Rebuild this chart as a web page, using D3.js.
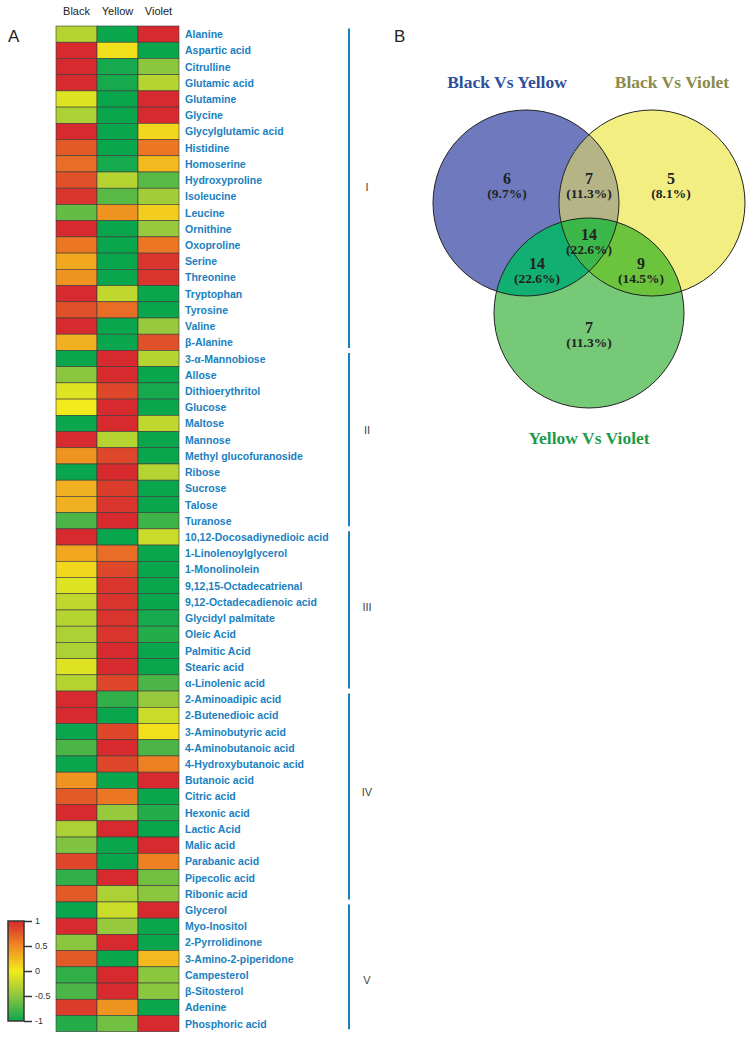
<!DOCTYPE html>
<html><head><meta charset="utf-8">
<script src="https://cdn.jsdelivr.net/npm/d3@7/dist/d3.min.js"></script>
<style>body{margin:0;background:#fff;}svg{display:block;}</style>
</head><body>
<script>
const samples = ["Black", "Yellow", "Violet"];
const metabolites = ["Alanine","Aspartic acid","Citrulline","Glutamic acid","Glutamine","Glycine","Glycylglutamic acid","Histidine","Homoserine","Hydroxyproline","Isoleucine","Leucine","Ornithine","Oxoproline","Serine","Threonine","Tryptophan","Tyrosine","Valine","β-Alanine",
"3-α-Mannobiose","Allose","Dithioerythritol","Glucose","Maltose","Mannose","Methyl glucofuranoside","Ribose","Sucrose","Talose","Turanose",
"10,12-Docosadiynedioic acid","1-Linolenoylglycerol","1-Monolinolein","9,12,15-Octadecatrienal","9,12-Octadecadienoic acid","Glycidyl palmitate","Oleic Acid","Palmitic Acid","Stearic acid","α-Linolenic acid",
"2-Aminoadipic acid","2-Butenedioic acid","3-Aminobutyric acid","4-Aminobutanoic acid","4-Hydroxybutanoic acid","Butanoic acid","Citric acid","Hexonic acid","Lactic Acid","Malic acid","Parabanic acid","Pipecolic acid","Ribonic acid",
"Glycerol","Myo-Inositol","2-Pyrrolidinone","3-Amino-2-piperidone","Campesterol","β-Sitosterol","Adenine","Phosphoric acid"];
const blackValues = [-0.3,1,1,1,-0.1,-0.35,1,0.75,0.65,0.8,0.95,-0.65,1,0.6,0.35,0.45,1,0.8,1,0.3,
-1,-0.5,-0.1,0.0,-1,1,0.45,-1,0.3,0.3,-0.75,
1,0.35,0.1,-0.1,-0.25,-0.3,-0.35,-0.35,-0.1,-0.3,
1,1,-1,-0.75,-1,0.45,0.75,1,-0.35,-0.55,0.85,-0.85,0.75,
-1,1,-0.5,0.75,-0.85,-0.75,0.9,-0.9];
const yellowValues = [-1,0.05,-0.95,-0.95,-1,-1,-1,-1,-0.95,-0.3,-0.7,0.45,-1,-1,-1,-1,-0.25,0.65,-1,-1,
1,1,0.85,1,1,-0.3,0.85,1,0.9,0.95,1,
-1,0.65,0.85,0.95,0.95,0.95,0.95,1,1,0.85,
-0.85,-1,0.85,1,0.85,-1,0.6,-0.45,1,-1,-1,1,-0.35,
-0.2,-0.45,1,-1,1,1,0.45,-0.6];
const violetValues = [1,-1,-0.5,-0.3,1,1,0.1,0.6,0.25,-0.7,-0.4,0.15,-0.45,0.6,0.95,0.95,-1,-1,-0.45,0.8,
-0.3,-1,-0.95,-1,-0.25,-1,-1,-0.3,-1,-1,-0.8,
-0.2,-1,-1,-1,-1,-0.95,-0.9,-1,-1,-0.75,
-0.45,-0.2,0.05,-0.75,0.55,1,-1,-0.9,-1,1,0.55,-0.6,-0.5,
1,-1,-1,0.25,-0.5,-0.5,-1,1];
const groupNames = ["I","II","III","IV","V"];
const groupSizes = [20,11,10,13,8];
const groupLabelRows = [9.9,24.9,35.8,47.2,58.8];
const colorTicks = [1,0.5,0,-0.5,-1];
const colorTickLabels = ["1","0.5","0","-0.5","-1"];

const vennSets = ["Black Vs Yellow","Black Vs Violet","Yellow Vs Violet"];
const vennCounts = [6,5,7,7,14,9,14];   // onlyBY, onlyBV, onlyYV, BY&BV, BY&YV, BV&YV, all
const vennPct = ["9.7%","8.1%","11.3%","11.3%","22.6%","14.5%","22.6%"];

const W=751,H=1038;
const svg=d3.select("body").append("svg").attr("width",W).attr("height",H);

// ---------- Heatmap ----------
const color=d3.scaleLinear().domain([-1,-0.5,0,0.5,1]).range(["#0aa64e","#8cc63f","#f3ea1c","#f08a22","#d62a2e"]).clamp(true);
const x=d3.scaleBand().domain(samples).range([56,179]);
const y=d3.scaleBand().domain(metabolites).range([26,1031.7]);
const cols=[blackValues,yellowValues,violetValues];
const hm=svg.append("g");
samples.forEach((s,j)=>{
  hm.selectAll(null).data(metabolites).join("rect")
    .attr("x",x(s)).attr("y",d=>y(d)).attr("width",x.bandwidth()).attr("height",y.bandwidth())
    .attr("fill",(d,i)=>color(cols[j][i])).attr("stroke","#3a3a3a").attr("stroke-width",0.6);
});
svg.append("g").selectAll("text").data(samples).join("text")
  .attr("x",d=>x(d)+x.bandwidth()/2).attr("y",15).attr("text-anchor","middle")
  .attr("font-family","Liberation Sans, Arial, sans-serif").attr("font-size",11).attr("fill","#222").text(d=>d);
svg.append("text").attr("x",8).attr("y",42).attr("font-family","Liberation Sans, Arial, sans-serif").attr("font-size",17).attr("fill","#222").text("A");
svg.append("g").selectAll("text").data(metabolites).join("text")
  .attr("x",185).attr("y",d=>y(d)+y.bandwidth()/2+4)
  .attr("font-family","Liberation Sans, Arial, sans-serif").attr("font-weight","bold").attr("font-size",10.5)
  .attr("fill","#1a7fc1").text(d=>d);
// group lines
let start=0;
const gl=svg.append("g");
groupSizes.forEach((n,k)=>{
  const y0=y(metabolites[start]), y1=y(metabolites[start+n-1])+y.bandwidth();
  gl.append("line").attr("x1",349).attr("x2",349).attr("y1",y0+2.5).attr("y2",y1-2.5).attr("stroke","#1a7fc1").attr("stroke-width",2);
  start+=n;
});
gl.selectAll("text").data(groupNames).join("text")
  .attr("x",367).attr("y",(d,k)=>26+groupLabelRows[k]*y.step()+4).attr("text-anchor","middle")
  .attr("font-family","Liberation Sans, Arial, sans-serif").attr("font-size",11).attr("fill","#444").text(d=>d);

// colorbar
const cb=d3.scaleLinear().domain([-1,1]).range([1021,921]);
const defs=svg.append("defs");
const grad=defs.append("linearGradient").attr("id","cbg").attr("x1",0).attr("x2",0).attr("y1",1).attr("y2",0);
[-1,-0.5,0,0.5,1].forEach(v=>grad.append("stop").attr("offset",(v+1)/2).attr("stop-color",color(v)));
svg.append("rect").attr("x",8).attr("y",921).attr("width",16).attr("height",100).attr("fill","url(#cbg)").attr("stroke","#333").attr("stroke-width",1.5);
const cbAxis=d3.axisRight(cb).tickValues(colorTicks).tickSize(8).tickFormat((d,i)=>colorTickLabels[i]);
const cbg=svg.append("g").attr("transform","translate(24,0)").call(cbAxis);
cbg.select(".domain").remove();
cbg.selectAll("line").attr("stroke","#333").attr("stroke-width",1.5);
cbg.selectAll("text").attr("font-size",9).attr("fill","#333").attr("font-family","Liberation Sans, Arial, sans-serif").attr("x",11);

// ---------- Venn ----------
svg.append("text").attr("x",394).attr("y",42).attr("font-family","Liberation Sans, Arial, sans-serif").attr("font-size",17).attr("fill","#222").text("B");
const circles=[{cx:526,cy:203,r:93,fill:"#6e7abd"},{cx:652,cy:203,r:93,fill:"#f2ee82"},{cx:589,cy:313,r:95,fill:"#76c977"}];
circles.forEach((c,i)=>{
  defs.append("clipPath").attr("id","c"+i).append("circle").attr("cx",c.cx).attr("cy",c.cy).attr("r",c.r);
});
const vg=svg.append("g");
circles.forEach(c=>vg.append("circle").attr("cx",c.cx).attr("cy",c.cy).attr("r",c.r).attr("fill",c.fill));
const pair=(a,b,fill)=>vg.append("g").attr("clip-path",`url(#c${a})`).append("circle")
  .attr("cx",circles[b].cx).attr("cy",circles[b].cy).attr("r",circles[b].r).attr("fill",fill);
pair(0,1,"#b4b486");
pair(0,2,"#11b072");
pair(1,2,"#6cc33c");
vg.append("g").attr("clip-path","url(#c0)").append("g").attr("clip-path","url(#c1)").append("circle")
  .attr("cx",circles[2].cx).attr("cy",circles[2].cy).attr("r",circles[2].r).attr("fill","#3cb84a");
circles.forEach(c=>vg.append("circle").attr("cx",c.cx).attr("cy",c.cy).attr("r",c.r).attr("fill","none").attr("stroke","#222").attr("stroke-width",1));

const titlePos=[[507,88,"#2d4f9c"],[672,88,"#8a8a4c"],[589,444,"#1f9a4a"]];
vennSets.forEach((t,i)=>svg.append("text").attr("x",titlePos[i][0]).attr("y",titlePos[i][1]).attr("text-anchor","middle")
  .attr("font-family","Liberation Serif, Times New Roman, serif").attr("font-weight","bold").attr("font-size",17.5)
  .attr("fill",titlePos[i][2]).text(t));
const regionPos=[[507,184],[671,184],[589,333],[589,184],[537,269],[641,269],[589,240]];
vennCounts.forEach((n,i)=>{
  const [px,py]=regionPos[i];
  svg.append("text").attr("x",px).attr("y",py).attr("text-anchor","middle").attr("font-family","Liberation Serif, Times New Roman, serif")
    .attr("font-weight","bold").attr("font-size",16).attr("fill","#222").text(n);
  svg.append("text").attr("x",px).attr("y",py+13.5).attr("text-anchor","middle").attr("font-family","Liberation Serif, Times New Roman, serif")
    .attr("font-weight","bold").attr("font-size",13.5).attr("fill","#222").text("("+vennPct[i]+")");
});
</script>
</body></html>
